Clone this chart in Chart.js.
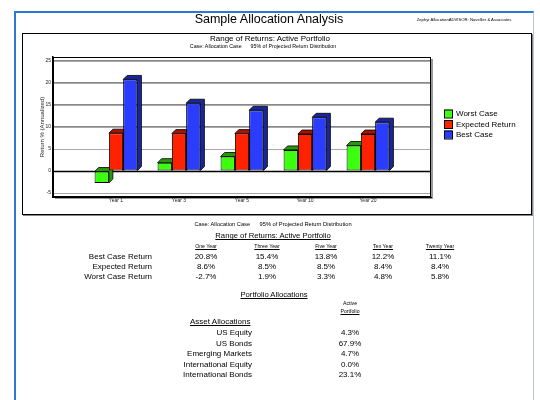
<!DOCTYPE html>
<html>
<head>
<meta charset="utf-8">
<script src="https://cdn.jsdelivr.net/npm/chart.js@4.4.1/dist/chart.umd.min.js"></script>
<style>
  html, body { margin:0; padding:0; background:#fff; }
  body { width:540px; height:400px; position:relative; overflow:hidden; font-family:"Liberation Sans", Arial, sans-serif; color:#000; }
  #page { position:absolute; left:14px; top:11px; width:517px; height:400px; border-left:2px solid #2f78d0; border-top:2px solid #2f78d0; border-right:1px solid #b9c6d8; }
  #box { position:absolute; left:22px; top:33px; width:508px; height:180px; border:1px solid #000; box-shadow:1px 1px 0 #888; }
  #cv { position:absolute; left:0; top:0; }
  .t { position:absolute; white-space:nowrap; line-height:1; }
  .u { text-decoration:underline; }
</style>
</head>
<body>
<div id="page"></div>
<div id="box"></div>
<canvas id="cv" width="540" height="400"></canvas>
<div id="txt"></div>
<script>
// ---- data ----
const categories = ['Year 1', 'Year 3', 'Year 5', 'Year 10', 'Year 20'];
const worstCase = [-2.7, 1.9, 3.3, 4.8, 5.8];
const expectedReturn = [8.6, 8.5, 8.5, 8.4, 8.4];
const bestCase = [20.8, 15.4, 13.8, 12.2, 11.1];
const seriesNames = ['Worst Case', 'Expected Return', 'Best Case'];
const yTicks = [-5, 0, 5, 10, 15, 20, 25];
const horizons = ['One Year', 'Three Year', 'Five Year', 'Ten Year', 'Twenty Year'];
const rowNames = ['Best Case Return', 'Expected Return', 'Worst Case Return'];
const assetNames = ['US Equity', 'US Bonds', 'Emerging Markets', 'International Equity', 'International Bonds'];
const activeAlloc = [4.3, 67.9, 4.7, 0.0, 23.1];

// ---- styles ----
const frontColors = ['#3cff10', '#ff2200', '#2a3dff'];
const depthColors = ['#249a0a', '#a51400', '#1a2599'];

// ---- text ----
const txt = document.getElementById('txt');
function place(text, x, y, size, align, cls) {
  const d = document.createElement('div');
  d.className = 't' + (cls ? ' ' + cls : '');
  d.style.fontSize = size + 'px';
  d.textContent = text;
  d.style.top = (y - size / 2) + 'px';
  if (align === 'center') { d.style.left = x + 'px'; d.style.transform = 'translateX(-50%)'; }
  else if (align === 'right') { d.style.right = (540 - x) + 'px'; }
  else { d.style.left = x + 'px'; }
  txt.appendChild(d);
  return d;
}
place('Sample Allocation Analysis', 269, 19, 12.5, 'center');
place('Zephyr AllocationADVISOR: Navellier & Associates', 464, 20, 4.2, 'center');
place('Range of Returns: Active Portfolio', 270, 39, 8, 'center');
place('Case: Allocation Case\u00a0\u00a0\u00a0\u00a0\u00a0\u00a095% of Projected Return Distribution', 263, 46.5, 5.3, 'center');

place('Case: Allocation Case\u00a0\u00a0\u00a0\u00a0\u00a0\u00a095% of Projected Return Distribution', 273, 225, 5.7, 'center');
place('Range of Returns: Active Portfolio', 273, 236, 7.7, 'center', 'u');
const colX = [206, 267, 326, 383, 440];
horizons.forEach((h, i) => place(h, colX[i], 247, 5.2, 'center', 'u'));
const rows = [bestCase, expectedReturn, worstCase];
const rowY = [257, 267, 277];
rows.forEach((vals, r) => {
  place(rowNames[r], 152, rowY[r], 8, 'right');
  vals.forEach((v, i) => place(v.toFixed(1) + '%', colX[i], rowY[r], 8, 'center'));
});

place('Portfolio Allocations', 274, 295, 7.7, 'center', 'u');
place('Active', 350, 304, 5.2, 'center');
place('Portfolio', 350, 312, 5.2, 'center', 'u');
place('Asset Allocations', 190, 322, 8, 'left', 'u');
const allocY = [333, 343.5, 354, 364.5, 375];
assetNames.forEach((n, i) => {
  place(n, 252, allocY[i], 8, 'right');
  place(activeAlloc[i].toFixed(1) + '%', 350, allocY[i], 8, 'center');
});

// ---- chart ----
const padEnds = a => [null, ...a, null];

const depthPlugin = {
  id: 'depth3d',
  beforeDatasetsDraw(chart) {
    const ctx = chart.ctx;
    const d = 4;
    chart.data.datasets.forEach((ds, di) => {
      const meta = chart.getDatasetMeta(di);
      meta.data.forEach((bar, i) => {
        if (ds.data[i] === null || ds.data[i] === undefined) return;
        const p = bar.getProps(['x', 'y', 'base', 'width'], true);
        const l = p.x - p.width / 2, r = p.x + p.width / 2;
        const top = Math.min(p.y, p.base), bot = Math.max(p.y, p.base);
        ctx.save();
        ctx.fillStyle = depthColors[di];
        ctx.strokeStyle = '#000';
        ctx.lineWidth = 0.8;
        ctx.beginPath();
        ctx.moveTo(l, top); ctx.lineTo(l + d, top - d); ctx.lineTo(r + d, top - d);
        ctx.lineTo(r + d, bot - d); ctx.lineTo(r, bot); ctx.lineTo(r, top); ctx.closePath();
        ctx.fill(); ctx.stroke();
        ctx.restore();
      });
    });
  }
};

const framePlugin = {
  id: 'frame',
  beforeDraw(chart) {
    const {ctx, chartArea: a} = chart;
    ctx.save();
    ctx.fillStyle = '#9a9a9a';
    ctx.fillRect(a.left + 2, a.bottom, a.right - a.left, 2);
    ctx.fillRect(a.right, a.top + 2, 2, a.bottom - a.top);
    ctx.restore();
  },
  beforeDatasetsDraw(chart) {
    const {ctx, chartArea: a, scales} = chart;
    ctx.save();
    // soft grey shading under each dotted grid line
    ctx.fillStyle = '#a8a8a8';
    scales.y.ticks.forEach(t => {
      if (t.value === 0) return;
      const py = Math.round(scales.y.getPixelForValue(t.value));
      ctx.fillRect(a.left, py, a.right - a.left, 1);
    });
    const y0 = Math.round(scales.y.getPixelForValue(0)) + 0.5;
    ctx.strokeStyle = '#000';
    ctx.lineWidth = 1.5;
    ctx.beginPath(); ctx.moveTo(a.left, y0); ctx.lineTo(a.right, y0); ctx.stroke();
    ctx.lineWidth = 1;
    ctx.strokeRect(a.left + 0.5, a.top + 0.5, a.right - a.left - 1, a.bottom - a.top - 1);
    ctx.restore();
  },
  afterDraw(chart) {
    // legend
    const ctx = chart.ctx;
    ctx.save();
    ctx.font = '8px "Liberation Sans", Arial, sans-serif';
    ctx.textBaseline = 'middle';
    chart.data.datasets.forEach((ds, i) => {
      const y = 113.5 + i * 10.5;
      ctx.fillStyle = ds.backgroundColor;
      ctx.fillRect(444, y - 4, 8, 8);
      ctx.strokeStyle = '#000';
      ctx.lineWidth = 1;
      ctx.strokeRect(444.5, y - 3.5, 8, 8);
      ctx.fillStyle = '#000';
      ctx.fillText(ds.label, 456, y + 0.5);
    });
    ctx.restore();
  }
};

new Chart(document.getElementById('cv'), {
  type: 'bar',
  data: {
    labels: padEnds(categories).map(v => v === null ? '' : v),
    datasets: [
      { label: seriesNames[0], data: padEnds(worstCase), backgroundColor: frontColors[0] },
      { label: seriesNames[1], data: padEnds(expectedReturn), backgroundColor: frontColors[1] },
      { label: seriesNames[2], data: padEnds(bestCase), backgroundColor: frontColors[2] }
    ]
  },
  options: {
    responsive: false,
    animation: false,
    events: [],
    layout: { padding: { left: 35, top: 57, right: 109, bottom: 191 } },
    datasets: { bar: { categoryPercentage: 0.68, barPercentage: 1.0, borderColor: '#000', borderWidth: 1, borderSkipped: false } },
    plugins: { legend: { display: false }, tooltip: { enabled: false }, title: { display: false } },
    scales: {
      x: {
        type: 'category',
        offset: false,
        grid: { display: false, drawTicks: false },
        border: { display: true, color: '#000', width: 1 },
        ticks: { font: { size: 5, family: '"Liberation Sans", Arial, sans-serif' }, color: '#222', padding: 1, maxRotation: 0, autoSkip: false },
        afterFit: s => { s.height = 12; }
      },
      y: {
        min: -5.9,
        max: 25.9,
        afterBuildTicks: s => { s.ticks = yTicks.map(v => ({ value: v })); },
        grid: { color: '#111', lineWidth: 1, drawTicks: false },
        border: { display: true, color: '#000', width: 1.5, dash: [1, 1] },
        ticks: { font: { size: 5, family: '"Liberation Sans", Arial, sans-serif' }, color: '#222', padding: 2 },
        title: { display: true, text: 'Return % (Annualized)', font: { size: 6, family: '"Liberation Sans", Arial, sans-serif' }, color: '#222', padding: { top: 4, bottom: 0 } },
        afterFit: s => { s.width = 18; }
      }
    }
  },
  plugins: [framePlugin, depthPlugin]
});
</script>
</body>
</html>
